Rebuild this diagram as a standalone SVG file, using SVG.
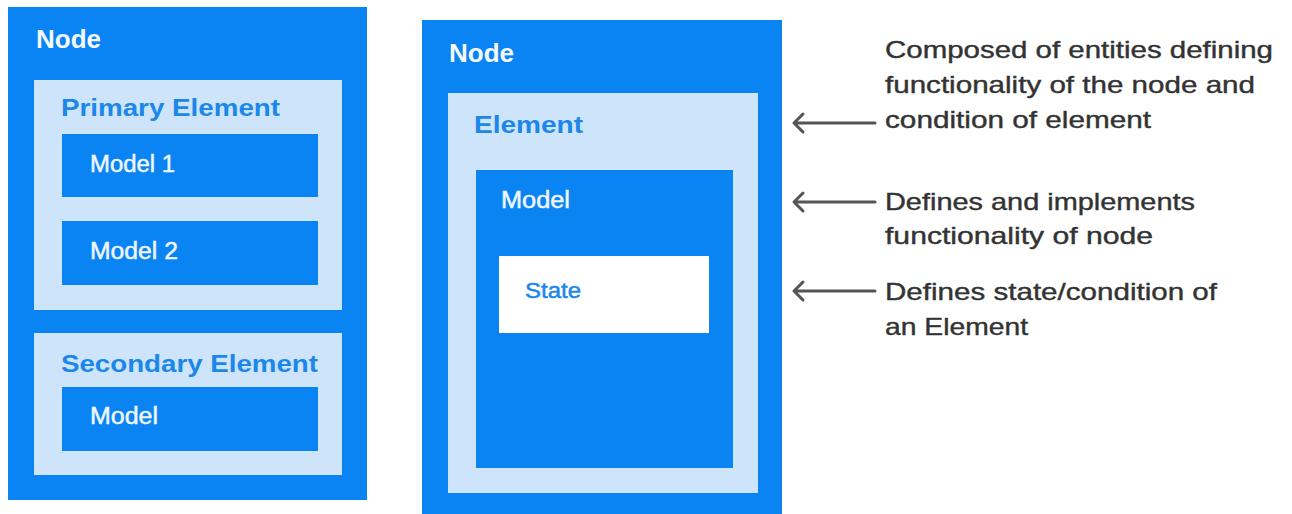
<svg xmlns="http://www.w3.org/2000/svg" width="1292" height="514" viewBox="0 0 1292 514">
  <defs>
    <style>
      .blue { fill: #0a84f2; }
      .light { fill: #cde4fa; }
      .white { fill: #ffffff; }
      .h1 { font-family: "Liberation Sans", Arial, sans-serif; font-weight: bold; font-size: 26px; fill: #f4f9ff; }
      .h2 { font-family: "Liberation Sans", Arial, sans-serif; font-weight: bold; font-size: 23px; fill: #1c87ea; }
      .m { font-family: "Liberation Sans", Arial, sans-serif; font-size: 23px; fill: #eef6ff; stroke: #eef6ff; stroke-width: 0.5px; }
      .s { font-family: "Liberation Sans", Arial, sans-serif; font-size: 22px; fill: #1c87ea; stroke: #1c87ea; stroke-width: 0.5px; }
      .ann { font-family: "Liberation Sans", Arial, sans-serif; font-size: 24px; fill: #333333; stroke: #333333; stroke-width: 0.4px; }
      .arr { stroke: #555555; stroke-width: 3; fill: none; stroke-linecap: round; stroke-linejoin: round; }
    </style>
  </defs>
  <rect x="0" y="0" width="1292" height="514" fill="#ffffff"/>

  <g id="node-left">
    <rect class="blue" x="8" y="7" width="359" height="493"/>
    <text class="h1" x="36" y="48">Node</text>
    <g id="primary-element">
      <rect class="light" x="34" y="80" width="308" height="230"/>
      <text class="h2" x="61" y="116" textLength="219" lengthAdjust="spacingAndGlyphs">Primary Element</text>
    </g>
    <g id="model-1">
      <rect class="blue" x="62" y="134" width="256" height="63"/>
      <text class="m" x="90" y="172" textLength="85" lengthAdjust="spacingAndGlyphs">Model 1</text>
    </g>
    <g id="model-2">
      <rect class="blue" x="62" y="221" width="256" height="64"/>
      <text class="m" x="90" y="259" textLength="88" lengthAdjust="spacingAndGlyphs">Model 2</text>
    </g>
    <g id="secondary-element">
      <rect class="light" x="34" y="333" width="308" height="142"/>
      <text class="h2" x="61" y="372" textLength="257" lengthAdjust="spacingAndGlyphs">Secondary Element</text>
    </g>
    <g id="model-left">
      <rect class="blue" x="62" y="387" width="256" height="64"/>
      <text class="m" x="90" y="424" textLength="68" lengthAdjust="spacingAndGlyphs">Model</text>
    </g>
  </g>

  <g id="node-right">
    <rect class="blue" x="422" y="20" width="360" height="494"/>
    <text class="h1" x="449" y="62">Node</text>
    <g id="element">
      <rect class="light" x="448" y="93" width="310" height="400"/>
      <text class="h2" x="474" y="133" textLength="109" lengthAdjust="spacingAndGlyphs">Element</text>
    </g>
    <g id="model-right">
      <rect class="blue" x="476" y="170" width="257" height="298"/>
      <text class="m" x="501" y="208" textLength="69" lengthAdjust="spacingAndGlyphs">Model</text>
    </g>
    <g id="state">
      <rect class="white" x="499" y="256" width="210" height="77"/>
      <text class="s" x="525" y="298" textLength="56" lengthAdjust="spacingAndGlyphs">State</text>
    </g>
  </g>

  <g id="connectors">
    <path class="arr" d="M875 123 H794 M803 114 L794 123 L803 132"/>
    <path class="arr" d="M875 202 H794 M803 193 L794 202 L803 211"/>
    <path class="arr" d="M875 291 H794 M803 282 L794 291 L803 300"/>
  </g>

  <g id="annotations">
    <text class="ann" x="885" y="58" textLength="388" lengthAdjust="spacingAndGlyphs">Composed of entities defining</text>
    <text class="ann" x="885" y="93" textLength="370" lengthAdjust="spacingAndGlyphs">functionality of the node and</text>
    <text class="ann" x="885" y="128" textLength="266" lengthAdjust="spacingAndGlyphs">condition of element</text>
    <text class="ann" x="885" y="210" textLength="310" lengthAdjust="spacingAndGlyphs">Defines and implements</text>
    <text class="ann" x="885" y="244" textLength="268" lengthAdjust="spacingAndGlyphs">functionality of node</text>
    <text class="ann" x="885" y="300" textLength="332" lengthAdjust="spacingAndGlyphs">Defines state/condition of</text>
    <text class="ann" x="885" y="335" textLength="143" lengthAdjust="spacingAndGlyphs">an Element</text>
  </g>
</svg>
